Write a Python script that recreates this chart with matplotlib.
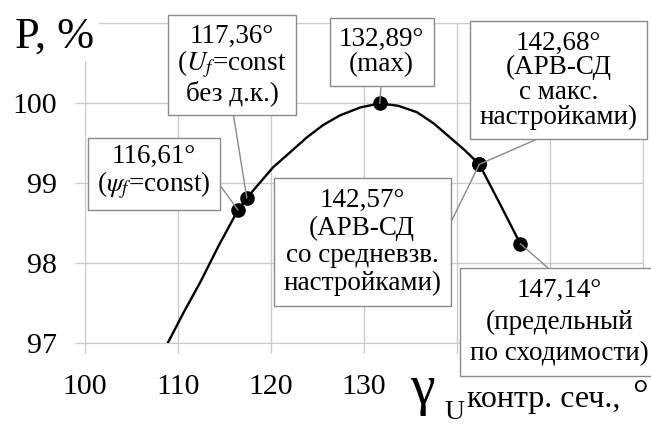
import matplotlib
matplotlib.use("Agg")
import matplotlib.pyplot as plt

plt.rcParams['font.family'] = ['Liberation Serif', 'DejaVu Serif']
plt.rcParams['mathtext.fontset'] = 'stix'

# curve
gamma = [108.9, 110.6, 112.4, 114.4, 116.45, 117.4, 120.2, 123.9, 125.6, 127.4,
         129.6, 131.7, 133.7, 135.7, 137.5, 139.2, 140.8, 142.4, 144.6, 146.8]
power = [97.0, 97.38, 97.76, 98.22, 98.66, 98.81, 99.19, 99.57, 99.72, 99.84,
         99.94, 99.99, 99.96, 99.88, 99.74, 99.57, 99.41, 99.23, 98.74, 98.24]

# marked points and their labels
pt_gamma = [116.45, 117.4, 131.7, 142.4, 142.4, 146.8]
pt_power = [98.66, 98.81, 99.99, 99.23, 99.23, 98.24]
pt_text = [
    "116,61°\n($\\psi_f$=const)",
    "117,36°\n($U_f$=const\nбез д.к.)",
    "132,89°\n(max)",
    "142,68°\n(АРВ-СД\nс макс.\nнастройками)",
    "142,57°\n(АРВ-СД\nсо средневзв.\nнастройками)",
    "147,14°\n(предельный\nпо сходимости)",
]
box_gamma = [107.4, 115.8, 131.9, 150.9, 129.8, 151.0]
box_power = [99.13, 100.47, 100.63, 100.28, 98.26, 97.26]
box_relpos = [(1, 0.5), (0.5, 0), (0.5, 0), (0.5, 0), (1, 0.5), (0.5, 1)]
box_spacing = [1.0, 0.98, 0.98, 0.98, 1.15, 1.35]

xticks = [100, 110, 120, 130, 140, 150, 160]
xtick_labels = ["100", "110", "120", "130", "", "", ""]
yticks = [97, 98, 99, 100, 101]
ytick_labels = ["97", "98", "99", "100", ""]

W, H = 651, 424
fig = plt.figure(figsize=(W / 100, H / 100), dpi=100)
ax = fig.add_axes([85 / W, 1 - 343 / H, 558 / W, 320.5 / H])

grid_c = '#cccccc'
line_c = '#8a8a8a'
ax.set_xlim(100, 160)
ax.set_ylim(97, 101)
ax.set_xticks(xticks)
ax.set_xticklabels(xtick_labels)
ax.set_yticks(yticks)
ax.set_yticklabels(ytick_labels)
ax.grid(True, color=grid_c, lw=1)
for s in ax.spines.values():
    s.set_color(grid_c)
ax.tick_params(axis='both', color=grid_c, length=7, width=1, labelsize=21.5)
ax.tick_params(axis='y', pad=13)
ax.tick_params(axis='x', pad=15)

ax.plot(gamma, power, color='black', lw=1.7, zorder=4)
ax.plot(pt_gamma, pt_power, 'o', color='black', ms=9.5, zorder=5)

for i in range(len(pt_text)):
    ax.annotate(pt_text[i], xy=(pt_gamma[i], pt_power[i]),
                xytext=(box_gamma[i], box_power[i]),
                ha='center', va='center', multialignment='center',
                fontsize=19.5, linespacing=box_spacing[i], zorder=6,
                annotation_clip=False,
                bbox=dict(boxstyle='square,pad=0.35', fc='white', ec=line_c, lw=1),
                arrowprops=dict(arrowstyle='-', color=line_c, lw=1,
                                relpos=box_relpos[i], shrinkA=0, shrinkB=0))

def px(x, y):
    return x / W, 1 - y / H

fig.text(*px(15, 48), "P, %", fontsize=32, ha='left', va='baseline',
         bbox=dict(boxstyle='square,pad=0.1', fc='white', ec='none'), zorder=7)

# axis title
fig.text(*px(410, 404), "γ", fontsize=40, ha='left', va='baseline')
fig.text(*px(444, 419), "U", fontsize=20, ha='left', va='baseline')
fig.text(*px(467, 407), "контр. сеч.,", fontsize=23, ha='left', va='baseline')
fig.text(*px(632, 407), "°", fontsize=28, ha='left', va='baseline')

fig.savefig("out.png", dpi=100)
